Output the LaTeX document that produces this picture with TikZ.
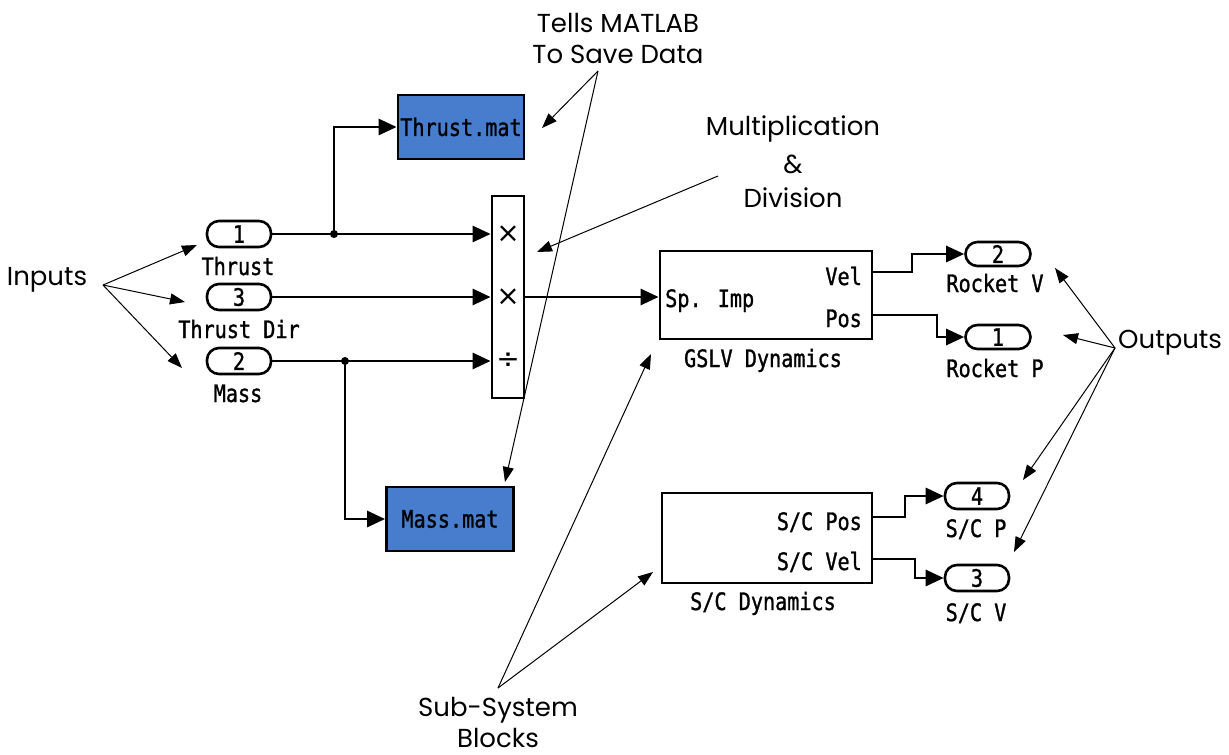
\documentclass[tikz,border=0pt]{standalone}
\usepackage{fontspec}
\setmainfont{Poppins}
\newfontfamily\simfont[FakeStretch=0.84, FakeBold=1.2]{DejaVu Sans Mono}
\newfontfamily\symfont{DejaVu Sans}
\usetikzlibrary{arrows.meta}
\definecolor{savefill}{RGB}{72,125,205}

\begin{document}
\begin{tikzpicture}[x=1pt,y=-1pt,
  sig/.style={line width=2.8pt, -{Triangle[length=18pt,width=16pt]}},
  note/.style={line width=1pt, -{Triangle[length=15pt,width=11pt]}},
  simtext/.style={font=\simfont\fontsize{24}{24}\selectfont, inner sep=0pt},
  port/.style={draw, line width=2.6pt, rounded corners=12pt, minimum width=64pt,
               minimum height=26pt, inner sep=0pt, simtext},
  block/.style={draw, line width=2.8pt, inner sep=0pt},
  save/.style={block, fill=savefill, minimum width=126pt, minimum height=64pt, simtext},
  opsym/.style={font=\symfont\fontsize{28}{28}\selectfont, inner sep=0pt},
  ann/.style={font=\fontsize{26}{26}\selectfont, inner sep=0pt},
  junction/.style={circle, fill, inner sep=0pt, minimum size=8pt}
]
\fill[white] (0,0) rectangle (1229,755);
\useasboundingbox (0,0) rectangle (1229,755);

% ---------- inports ----------
\node[port] (in1) at (239,234) {1};
\node[port] (in3) at (239,297) {3};
\node[port] (in2) at (239,361) {2};
\node[simtext, anchor=base] (lin1) at (238,275) {Thrust};
\node[simtext, anchor=base] (lin3) at (239,338) {Thrust Dir};
\node[simtext, anchor=base] (lin2) at (238,402) {Mass};

% ---------- product block ----------
\node[block, minimum width=32pt, minimum height=202pt] (prod) at (508,297) {};
\node[opsym] (op1) at (508,234) {×};
\node[opsym] (op2) at (508,297) {×};
\node[opsym] (op3) at (508,361) {÷};

% ---------- to-workspace blocks ----------
\node[save] (tmat) at (461,127) {Thrust.mat};
\node[save, minimum width=127pt] (mmat) at (450,519) {Mass.mat};

% ---------- subsystems ----------
\node[block, minimum width=212pt, minimum height=88pt] (gslv) at (766,295) {};
\node[simtext, anchor=base west] (spimp) at (665,307) {Sp. Imp};
\node[simtext, anchor=base east] (vel) at (862,285) {Vel};
\node[simtext, anchor=base east] (pos) at (862,327) {Pos};
\node[simtext, anchor=base] (gslvname) at (763,367) {GSLV Dynamics};

\node[block, minimum width=210pt, minimum height=90pt] (scd) at (767,538) {};
\node[simtext, anchor=base east] (scpos) at (862,530) {S/C Pos};
\node[simtext, anchor=base east] (scvel) at (862,570) {S/C Vel};
\node[simtext, anchor=base] (scname) at (763,610) {S/C Dynamics};

% ---------- outports ----------
\node[port, minimum width=65pt, minimum height=24pt] (out2) at (998,254) {2};
\node[port, minimum width=65pt, minimum height=24pt] (out1) at (998,337) {1};
\node[port] (out4) at (977,496) {4};
\node[port] (out3) at (977,578) {3};
\node[simtext, anchor=base] (lout2) at (995,292) {Rocket V};
\node[simtext, anchor=base] (lout1) at (995,377) {Rocket P};
\node[simtext, anchor=base] (lout4) at (976,537) {S/C P};
\node[simtext, anchor=base] (lout3) at (976,621) {S/C V};

% ---------- signal lines ----------
\draw[sig] (in1.east) -- (in1.east -| prod.west);
\draw[sig] (in3.east) -- (in3.east -| prod.west);
\draw[sig] (in2.east) -- (in2.east -| prod.west);
\node[junction] (j1) at (334,234) {};
\node[junction] (j2) at (345,361) {};
\draw[sig] (j1.center) |- (tmat.west);
\draw[sig] (j2.center) |- (mmat.west);
\draw[sig] (prod.east) -- (prod.east -| gslv.west);

\coordinate (velbend) at (912,272);
\coordinate (posbend) at (937,315);
\coordinate (scpbend) at (905,517);
\coordinate (scvbend) at (915,559);
\draw[sig] (gslv.east |- velbend) -- (velbend) |- (out2.west);
\draw[sig] (gslv.east |- posbend) -- (posbend) |- (out1.west);
\draw[sig] (scd.east |- scpbend) -- (scpbend) |- (out4.west);
\draw[sig] (scd.east |- scvbend) -- (scvbend) |- (out3.west);

% ---------- annotations ----------
\node[ann, anchor=base] (inputs) at (47,285) {Inputs};
\coordinate (inroot) at (103,285);
\coordinate (inA) at (197,245);
\coordinate (inB) at (185,302);
\coordinate (inC) at (182,368);
\draw[note] (inroot) -- (inA);
\draw[note] (inroot) -- (inB);
\draw[note] (inroot) -- (inC);

\node[ann, anchor=base] (tells1) at (618,32) {Tells MATLAB};
\node[ann, anchor=base] (tells2) at (618,63) {To Save Data};
\coordinate (tellsroot) at (598,71);
\coordinate (tellsA) at (542,128);
\coordinate (tellsB) at (505,482);
\draw[note] (tellsroot) -- (tellsA);
\draw[note] (tellsroot) -- (tellsB);

\node[ann, anchor=base] (mult1) at (793,135) {Multiplication};
\node[ann, anchor=base] (mult2) at (793,173) {\&};
\node[ann, anchor=base] (mult3) at (793,207) {Division};
\coordinate (multroot) at (718,176);
\coordinate (multtip) at (537,252);
\draw[note] (multroot) -- (multtip);

\node[ann, anchor=base] (sub1) at (498,716) {Sub-System};
\node[ann, anchor=base] (sub2) at (498,747) {Blocks};
\coordinate (subroot) at (498,688);
\coordinate (subA) at (651,354);
\coordinate (subB) at (653,572);
\draw[note] (subroot) -- (subA);
\draw[note] (subroot) -- (subB);

\node[ann, anchor=base west] (outputs) at (1118,348) {Outputs};
\coordinate (outroot) at (1115,348);
\coordinate (outA) at (1055,268);
\coordinate (outB) at (1063,335);
\coordinate (outC) at (1023,480);
\coordinate (outD) at (1014,552);
\draw[note] (outroot) -- (outA);
\draw[note] (outroot) -- (outB);
\draw[note] (outroot) -- (outC);
\draw[note] (outroot) -- (outD);
\end{tikzpicture}
\end{document}
